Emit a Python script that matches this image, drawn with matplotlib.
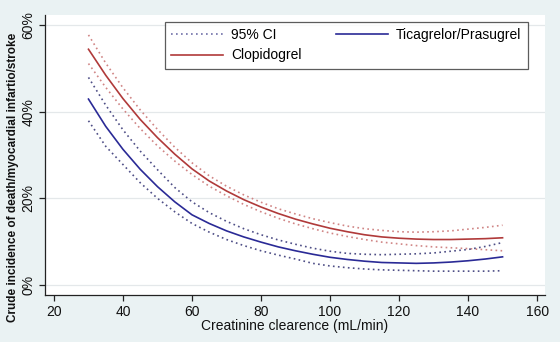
import matplotlib
matplotlib.use("Agg")
import matplotlib.pyplot as plt
from matplotlib.ticker import FuncFormatter
from matplotlib.lines import Line2D
from matplotlib import font_manager

plt.rcParams['font.family'] = ['Liberation Sans', 'DejaVu Sans']

# Creatinine clearance (mL/min)
crcl = [30, 35, 40, 45, 50, 55, 60, 65, 70, 75, 80, 85, 90, 95, 100,
        105, 110, 115, 120, 125, 130, 135, 140, 145, 150]

# Clopidogrel (%)
clop = [54.4, 48.4, 43.0, 38.2, 34.0, 30.2, 26.8, 24.0, 21.7, 19.7, 18.0, 16.5, 15.2,
        14.1, 13.1, 12.3, 11.6, 11.1, 10.8, 10.6, 10.5, 10.5, 10.6, 10.7, 10.9]
clop_hi = [57.7, 51.2, 45.5, 40.4, 35.9, 31.8, 28.2, 25.2, 22.8, 20.8, 19.1, 17.6, 16.4,
           15.3, 14.4, 13.6, 13.0, 12.6, 12.3, 12.2, 12.3, 12.5, 12.9, 13.3, 13.8]
clop_lo = [51.1, 45.6, 40.6, 36.1, 32.1, 28.6, 25.5, 22.8, 20.6, 18.6, 16.9, 15.4, 14.1,
           13.0, 12.0, 11.2, 10.5, 9.9, 9.5, 9.1, 8.8, 8.6, 8.4, 8.15, 7.9]

# Ticagrelor/Prasugrel (%)
tica = [42.9, 36.6, 31.3, 26.7, 22.7, 19.2, 16.2, 14.2, 12.5, 11.1, 9.9, 8.8, 7.9,
        7.1, 6.4, 5.9, 5.5, 5.2, 5.1, 5.0, 5.1, 5.3, 5.6, 6.0, 6.5]
tica_hi = [47.9, 41.5, 35.8, 30.9, 26.6, 22.5, 19.2, 16.7, 14.7, 13.0, 11.6, 10.4, 9.4,
           8.5, 7.8, 7.3, 7.1, 7.0, 7.1, 7.2, 7.4, 7.8, 8.2, 8.9, 9.8]
tica_lo = [37.9, 32.0, 27.8, 23.6, 20.0, 16.9, 14.2, 12.2, 10.5, 9.1, 7.9, 6.9, 6.0,
           5.0, 4.4, 4.0, 3.7, 3.5, 3.4, 3.3, 3.2, 3.2, 3.2, 3.2, 3.3]

xticks = [20, 40, 60, 80, 100, 120, 140, 160]
yticks = [0, 20, 40, 60]

BG = '#eaf2f3'
RED = '#b03a3a'
RED_CI = '#d08585'
BLUE = '#2a2a96'
BLUE_CI = '#4e4e86'

fig = plt.figure(figsize=(5.6, 3.42), dpi=100, facecolor=BG)
ax = fig.add_axes([45/560, 1-295/342, 500/560, 280/342])
ax.set_facecolor('white')

dot = (0, (1.0, 2.0))
ax.plot(crcl, clop_hi, color=RED_CI, lw=1.2, ls=dot)
ax.plot(crcl, clop_lo, color=RED_CI, lw=1.2, ls=dot)
ax.plot(crcl, tica_hi, color=BLUE_CI, lw=1.2, ls=dot)
ax.plot(crcl, tica_lo, color=BLUE_CI, lw=1.2, ls=dot)
ax.plot(crcl, clop, color=RED, lw=1.2)
ax.plot(crcl, tica, color=BLUE, lw=1.2)

ax.set_xlim(17.4, 162.3)
ax.set_ylim(-2.3, 62.3)
ax.set_xticks(xticks)
ax.set_yticks(yticks)
ax.yaxis.set_major_formatter(FuncFormatter(lambda v, p: f"{v:.0f}%"))
ax.grid(axis='y', color='#e4e8ea', lw=0.9)
ax.set_axisbelow(True)
for s in ['top', 'right']:
    ax.spines[s].set_visible(False)
for s in ['left', 'bottom']:
    ax.spines[s].set_color('#222222')
    ax.spines[s].set_linewidth(0.9)
ax.tick_params(axis='both', direction='out', length=4, width=0.9, color='#222222',
               labelsize=10, labelcolor='#111111')
ax.tick_params(axis='y', pad=3)
for lab in ax.get_yticklabels():
    lab.set_rotation(90)
    lab.set_va('center')

ax.set_xlabel('Creatinine clearence (mL/min)', fontsize=10, color='#111111', labelpad=0)

names = {f.name for f in font_manager.fontManager.ttflist}
if 'Liberation Sans Narrow' in names:
    yfam, ysize = ['Liberation Sans Narrow', 'Liberation Sans'], 9.9
else:
    yfam, ysize = ['Liberation Sans', 'DejaVu Sans'], 8.5
fig.text(13/560, 1-177/342, 'Crude incidence of death/myocardial infartio/stroke',
         rotation=90, ha='center', va='center', fontsize=ysize, fontweight='bold',
         color='#111111', family=yfam)

handles = [Line2D([], [], color='#7070a8', lw=1.2, ls=dot),
           Line2D([], [], color=RED, lw=1.2),
           Line2D([], [], color=BLUE, lw=1.2)]
labels = ['95% CI', 'Clopidogrel', 'Ticagrelor/Prasugrel']
leg = fig.legend(handles, labels, ncol=2, loc='upper left',
                 bbox_to_anchor=(165/560, 1-22/342), borderaxespad=0,
                 fontsize=10, frameon=True, fancybox=False, handlelength=3.7,
                 handletextpad=0.6, columnspacing=2.5, labelspacing=0.45,
                 borderpad=0.45)
leg.get_frame().set_edgecolor('#333333')
leg.get_frame().set_linewidth(0.9)

fig.savefig('out.png', dpi=100, facecolor=BG)
